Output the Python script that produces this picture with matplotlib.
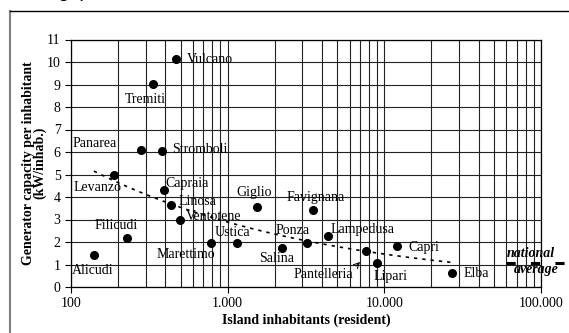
import matplotlib
matplotlib.use("Agg")
import matplotlib.pyplot as plt
from matplotlib.lines import Line2D
from matplotlib.ticker import FixedLocator, LogLocator, NullFormatter
import numpy as np

# island data: resident inhabitants and generator capacity per inhabitant (kW/inhab.)
islands = ["Vulcano", "Tremiti", "Panarea", "Stromboli", "Levanzo", "Capraia",
           "Linosa", "Ventotene", "Filicudi", "Alicudi", "Marettimo", "Ustica",
           "Giglio", "Salina", "Ponza", "Favignana", "Lampedusa", "Pantelleria",
           "Lipari", "Capri", "Elba"]
inhabitants = [466, 334, 280, 383, 188, 394, 432, 499, 229, 140, 785, 1146,
               1538, 2233, 3221, 3485, 4385, 7640, 9015, 12080, 27100]
capacity = [10.13, 9.02, 6.10, 6.03, 4.98, 4.31, 3.64, 3.00, 2.18, 1.42, 1.94,
            1.94, 3.56, 1.75, 1.94, 3.42, 2.27, 1.61, 1.05, 1.84, 0.64]

national_average = 1.05
national_range = [60000, 200000]

x_ticks = [100, 1000, 10000, 100000]
x_tick_labels = ["100", "1.000", "10.000", "100.000"]

# label offsets in pixels (dx, dy) and horizontal alignment
label_pos = {
    "Vulcano": (11, 0, "left"), "Tremiti": (-8, -15, "center"),
    "Panarea": (-24, 6, "right"), "Stromboli": (10, 2, "left"),
    "Levanzo": (-16, -13, "center"), "Capraia": (1, 7, "left"),
    "Linosa": (8, 4, "left"), "Ventotene": (5, 3, "left"),
    "Filicudi": (-11, 12, "center"), "Alicudi": (-1, -15, "center"),
    "Marettimo": (-25, -11, "center"), "Ustica": (-4, 11, "center"),
    "Giglio": (-3, 14, "center"), "Salina": (-6, -11, "center"),
    "Ponza": (-15, 13, "center"), "Favignana": (3, 13, "center"),
    "Lampedusa": (2, 6, "left"), "Pantelleria": (-43, -24, "center"),
    "Lipari": (13, -13, "center"), "Capri": (11, -2, "left"),
    "Elba": (11, -1, "left"),
}

plt.rcParams["font.family"] = ["Liberation Serif", "DejaVu Serif"]

fig = plt.figure(figsize=(5.69, 3.33), dpi=100)
ax = fig.add_axes([71 / 569, 1 - 287 / 333, 470 / 569, 247.5 / 333])

ax.set_xscale("log")
ax.set_xlim(100, 100000)
ax.set_ylim(0, 11)
ax.set_yticks(range(0, 12))
ax.xaxis.set_major_locator(FixedLocator(x_ticks))
ax.set_xticklabels(x_tick_labels)
ax.xaxis.set_minor_locator(LogLocator(base=10, subs=np.arange(2, 10)))
ax.xaxis.set_minor_formatter(NullFormatter())
ax.tick_params(axis="both", which="major", labelsize=10, direction="out",
               length=4, width=0.8, color="black")
ax.tick_params(axis="x", which="minor", length=0)
ax.grid(True, which="both", axis="x", color="#222222", lw=0.8)
ax.grid(True, which="major", axis="y", color="#222222", lw=0.8)
ax.set_axisbelow(True)
for s in ax.spines.values():
    s.set_color("black")
    s.set_linewidth(0.9)

# power trendline fitted on the data
logx = np.log(inhabitants)
logy = np.log(capacity)
b, a = np.polyfit(logx, logy, 1)
xt = np.logspace(np.log10(min(inhabitants)), np.log10(max(inhabitants)), 100)
ax.plot(xt, np.exp(a) * xt ** b, color="black", lw=1.2, ls=(0, (2, 3)), zorder=2)

ax.plot(inhabitants, capacity, "o", color="black", ms=5.5, zorder=3)

for name, x, y in zip(islands, inhabitants, capacity):
    dx, dy, ha = label_pos[name]
    ax.annotate(name, (x, y), xytext=(dx, dy), textcoords="offset pixels",
                ha=ha, va="center", fontsize=10, zorder=4)

ax.annotate("", xy=(7200, 1.2), xytext=(6400, 0.84),
            arrowprops=dict(arrowstyle="->", color="black", lw=0.7))

# national average
ax.plot(national_range, [national_average] * 2, color="black", lw=2.2,
        ls=(0, (3, 5)), clip_on=False, zorder=3)
ax.text(86300, 1.5, "national", fontsize=10, fontweight="bold",
        fontstyle="italic", ha="center", va="center")
ax.text(92700, 0.76, "average", fontsize=10, fontweight="bold",
        fontstyle="italic", ha="center", va="center")

ax.set_xlabel("Island inhabitants (resident)", fontsize=10, fontweight="bold",
              labelpad=2)
ax.set_ylabel("Generator capacity per inhabitant\n(kW/inhab.)", fontsize=10,
              fontweight="bold", linespacing=0.85, labelpad=0)

# outer frame (cropped) and caption remnant
fig.add_artist(Line2D([10 / 569, 10 / 569], [0, 1 - 11 / 333], color="#808080",
                      lw=1.5, transform=fig.transFigure))
fig.add_artist(Line2D([10 / 569, 1], [1 - 11 / 333, 1 - 11 / 333],
                      color="black", lw=1.0, transform=fig.transFigure))
fig.text(57 / 569, 1 + 3 / 333, "ge)", fontsize=15, family="Liberation Sans",
         va="baseline", ha="left")

fig.savefig("out.png", dpi=100)
